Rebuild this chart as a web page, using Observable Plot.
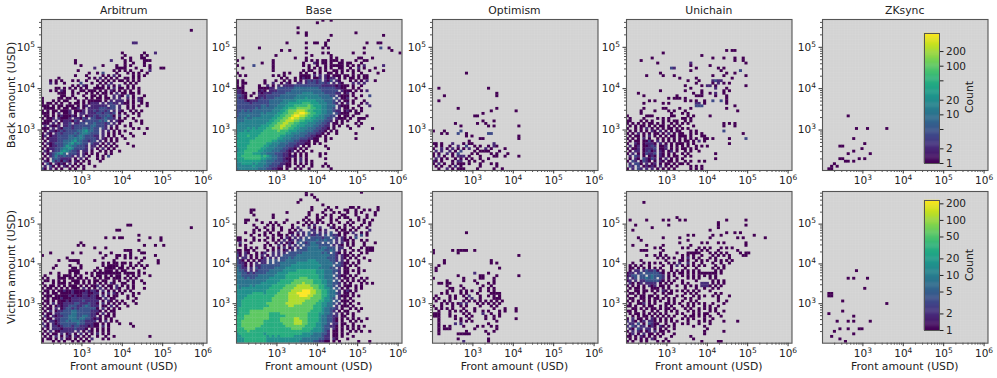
<!DOCTYPE html>
<html><head><meta charset="utf-8">
<script src="https://cdn.jsdelivr.net/npm/d3@7"></script>
<script src="https://cdn.jsdelivr.net/npm/@observablehq/plot@0.6"></script>
<style>
html,body{margin:0;padding:0;background:#fff}
#fig{position:relative;width:997px;height:378px;overflow:hidden;font-family:"DejaVu Sans",sans-serif}
#fig svg{position:absolute;background:transparent;overflow:visible}
</style></head><body><div id="fig"></div>
<script>
// Each string is one row of 60 log-spaced bins (top row first). '.' = empty; digit/letter = count level.
const levelCounts = {1:1,2:2,3:4,4:8,5:15,6:30,7:60,8:120,9:250,a:450};
const chains = ["Arbitrum","Base","Optimism","Unichain","ZKsync"];
const xTicks = [1e3,1e4,1e5,1e6];
const yTicks = [1e3,1e4,1e5];
const xDomain = [100,1.25e6];
const backDomain = [105,4.7e5];
const victimDomain = [102,6.6e5];
const barTicksBack = [1,2,5,10,20,50,100,200];
const barTicksVictim = [1,2,5,10,20,50,100,200];
const maxBack = 470, maxVictim = 230;

const arbitrumBack = [
'','','','',
'.......... .......... .......... .......... .......... ....1',
'','','','',
'.......... .......... .......... ...22',
'','','',
'.......... .......... .........1 .......1.. .2',
'.......... .......... .......... 1.....1.1',
'.......... .......... .........1 ..1...11',
'.......... ..1....... .....2.... 1.1....111',
'.......... ..1....... .......... 1..1...1',
'.......... ....1..... ..1....1.. 1.1....1.1',
'.......... .........2 .......111 1...1....1 ...11',
'.......... ...1...... ......1.1. 1.1...1..2',
'.......... .......1.. 1.3....1.. .1.1.1..1.',
'.......... ..1...1... ..1.1.2.1. ...1.1.1..',
'......1... .......1.1 .2.1.1.1.. 11.1.1..',
'...1.1.1.. .1.1..1... 1.1.1.1.11 .1.1.1.',
'...2.1..1. ....3...1. .1.1.2.... 1.1.1',
'.......... .1.1.21... 1.1.2.1.2. .1.1',
'.....11.1. 1.1.1.1..1 111.1.2.11 .1.1.1....',
'...1.1.21. .1..11.111 .1.1.21.1. 1.1..1',
'......111. .1.1..1.1. 1.11.1.2.1 1.11.1....',
'.......11. .1...1..11 .1.1..2.21 .3.1...1',
'1.....11.1 1.1...1.1. 11.11.2.2. .2.1.21...',
'1...1.1.11 ...1.1.111 11.1.2.222 .1.1.21...',
'1.11.1.1.. 1.11.1.122 2.2.2322.2 11.1..1.1.',
'111.1.11.1 11.1.12.22 2222.33.2. .1.1.1..1.',
'.1111.1.11 .112.1.222 2333233.2. .1.1...',
'1.1.11.111 2.1112.223 23323.2.21 ..1.1.1.',
'111.1.2.11 2.1.22.222 3323323.1. 1..1.1...',
'.11.1.1211 121.2.1223 2333431.2. .1...1..',
'1.112.2111 2.22132.33 2234332.1. 1..1..',
'.111.2.122 2132.23333 3434.2.211 ....1.1...',
'111.2.1.22 3.2233.334 33323.2.1. ..1...1.',
'.2.2112.22 3233333344 3332.2.1.. 1.1.....',
'111.2.2133 3233344343 3.32.1.1.. ...1.1..1.',
'.1.2212323 3334456443 3.2.2.1.1. 1.',
'1.21.23233 3343455433 3.2.1.1.1. ..1....1',
'12.1223333 4434543332 2.2.1.1..1 ...1..',
'1.12223333 4454543333 2.21.1.1.. 1...',
'.1.2223344 4564433233 .2.1.1.1..',
'1.21233344 5645433.32 2.1.2.1... .1',
'.1.1223346 5443332.22 .1.1.1.1.. ...1',
'1.12233455 6533332.2. 1.2.1.1...',
'.21.233565 4332.22.1. .1.1.1..1.',
'1.1234564. 3332.21.1. 1..1.1.',
'.1.2353343 32.2.2.1.. 1.1.3...',
'1.1.343222 2.1.2.1... 1.1.',
'.21.423132 1.21.1.1.. .1.',
'1.31.2121. 2.1.1..1..',
'.2.31.1.21 .1.1.1...1',
'31.2.1.1.. 1.1..1.'
];
const baseBack = [
'.......... .......... .......... .1..1',
'.......... .......... .........1',
'',
'.......... .......... ..1',
'',
'.......... .......... ..1..1.... .......... ...1',
'.......... .......... .....1.... ....1..... .......... ...1',
'',
'.......... .......... .......... ...1',
'.......... ........1. .....1..11 ..1....... .......1.. .11',
'.......... .......... .......... ..1',
'........1. .......... .....1.... .1.1...... ......1... ..3..1',
'.......... ......1..1 .......... .......... .......... ......1',
'.......... .......... .....1.... .1.1...... ..1...1... .........1',
'.......... ....1..... .......1.. ....1.....',
'..1....... .......... .1...1.... ....1.1... ....11...1',
'1......... ...1...... .....1.1.1 .11.111.1. ...1..11..',
'.........1 ...1...... ....1...21 .11.1..11. 11...1....',
'1.....3... ...1...... ....1.1..1 ..1.11111. 1.1.1.2... ...2',
'..1....... ...1...... ......1.1. 1.1.1..11. .1..2.1... 1.',
'.......... ...1...... ....1.11.. 1.1..11.1. 1.1.1...1. ...1',
'1......... .......1.1 ...1.1..1. 1..11.1.1. ..1..1.... .1',
'.1.1...... ...1.1.1.. ...1111.2. 2.21.111.1 1.1.1.11..',
'.......... ......1.1. .1.1211.11 2.2122.1.1 .11.1.11..',
'1.1....... 1...1..1.1 .1.1.23232 3.213.21.. .1.1.1.2.. 1',
'1.11...... 1..2..1.21 ..22.23332 3323.2.21. ..2.2.2...',
'1.1.....1. .2.1.2.222 2333333333 3222221211 1.1..1....',
'111.....11 1122.33333 3444444444 3333332211 ..1.1.....',
'221.....12 1.22233333 4444444444 4333333.21 11.1.1.2..',
'2211..1.21 2223333344 4444555544 44333322.1 2.1.......',
'3321.1..22 2333334444 4455555555 444433.211 1.1..1..3.',
'3221...123 2333444444 4555565555 54444.3.11 2..1......',
'3332122233 3344444555 5566666665 554443.2.1 1.1...1...',
'3333323333 3344445556 6666777666 5554432.1. 2.1..1.2..',
'3333333334 4344455566 6777778766 655444.211 1...1...2.',
'3333333434 4444555667 7788888776 655443.2.1 1.1..1....',
'3343434444 4445556678 8899987766 65544322.1 21.1.1....',
'3444444445 4555566778 899aa98776 65544.3211 1..11.....',
'3444544445 5555667788 9aa9987766 554433.1.1 1.1....1..',
'4445445555 5556677889 a998877665 55433.2111 .1..111...',
'4445555555 5566778899 9887766655 44332.1.1. 1...1.....',
'4555555555 5667788998 8776665554 4332.11.1. ...1.1....',
'5555555556 6677889988 7766655544 3322.1.1.. 1...1.....',
'5555656566 6778889887 7665554443 3221.1.... .1.......1',
'5556566666 7777787776 6655544433 221.1.1...',
'5666666667 7777777766 5554443332 21.1..1... ...1',
'6666766677 7777776655 5444433221 1.1.......',
'5666666777 7777766555 4443332211 ..1.1..... ...1',
'6666677777 7776655544 4332221.11 ..1.......',
'6666677777 7665554443 3322211.1. 1...',
'6666777777 6655544433 322.1.1... ..1.......',
'5666777776 6555444332 21.1.1.... ...1......',
'5667777766 5554443321 2.1.1..1..',
'6667776665 5444333221 .1.1.1.... 1.1.......',
'6677777776 7654433221 21.1.1.... 1.........',
'6667777776 6554433211 .1.2.1.... ..1.......',
'5666666665 5444333221 .1.2.1.1..',
'5566665655 5443332211 .1.1.1.1.. ..1.......',
'5555556555 4433322.11 ..1.1..1.. .1.1......',
'4555555544 4332211.1. .1.1..1... ....1.....'
];
const optimismBack = [
'','','','','','','','','','','','','','','','','','','','','',
'.......... ..1',
'','','','','',
'..1....... .......... 1',
'',
'.......... .......... ...1',
'....1..... .......... ...1',
'',
'..1',
'',
'',
'.........1 .......... ...1',
'.......... .......... .1........ 1',
'.......... ........1.',
'.......... .....11...',
'',
'.......... ........1. ..1',
'........1. ......1..1',
'.......... 1......... 1.1....... .1',
'',
'1...1..... 3.........',
'...1.1...3 ..1....... 33',
'.......... ..1.1..... .......... .1',
'.......... .......11. .......... .1',
'.......... ...1',
'11.1...2.. .1.11..... ..2',
'.1.1..1..2 ..3..1.1.. 1.21',
'1..2.1.2.1 .1.2..1..2 .1....1',
'.2.2..2.1. 3....1.111 1...1',
'1.1..2.1.3 ....1.1... .1.1...1..',
'1.2.1..1.2 22.1...1.. ..11..1... .1',
'.2.1.1..1. 1.1.1..1.. 1...',
'21.1...1.2 2..1.1..1.',
'1.2.1..1.1 11.1...1.. .1.1..',
'.1.1..1.2. 1......1.. ...1',
'..1..2.1.1 11....1... ..1..1'
];
const unichainBack = [
'','','','','','','','','','','','',
'.......... .......... .......... ......1.11',
'.......... ...1......',
'.......... .......... .......1..',
'.........1 .......... .......... .1...1...1 ..1',
'.....1.... .......... .......... .........1 ..1',
'.......... .1........ ...2...... .......... ...1',
'.......... .......... ...1...... 1.........',
'.......... ......32.. .....1.... ...1.1....',
'.......... .......... ...1...... ....1..... .3',
'.......... ..1....... .......... ......1..1',
'.......1.. ...1...1.. .......... .1...1.... ...1',
'.......... .........1 .....1.... ........1.',
'.......... .......... ..1...1... .2322.....',
'.......... .......... .....1.... .1.2.1.1..',
'.......... .......... .1.....1.2 2.1....... ...1',
'.......... .......... ...1..... ...2...1...',
'.......... ..1....... .1.....1.. .....1.1..',
'....1..... .......... ....1..1.. 1.2..1....',
'......1... ........1. .....111.. ..1...1...',
'.......... .....1.111 .1........ ......1...',
'........1. 1......... .1.1.1..1. .3..3.1.',
'......1... ...1.1.... .....22.1. ......1...',
'.......... .......... .....333.. .........1',
'......1... ...11....1 ...1...... ......1...',
'.....1.... 1....1.1.. .1........ ..........1',
'.....1.... ......1... 1.1.......',
'1......111 ......11.. ..1.1..... 1...',
'.1....1... .1.1.1.... 11.1......',
'11...1.1.1 ...1.1.11. .1.1......',
'1.1.1.1.11 .1.1..1.1. 1.1....... .....1.1.1',
'.1.1.11.1. 1.11.1.1.1 ....1..... .....1...1',
'1..1.1.2.1 .1.1.11.1. 1.1.......',
'.1.1.1.1.2 1.2.1.1.11 ...1.1.... .....3....',
'1.1.2.1.1. 11.1.2.1.1 1..1.1.1.. .......... ..1',
'.1.11.1.2. 1.1.1.11.1 11.1...11.',
'1.1.1.2.1. .1.1.1.1.1 .1.1.1..11 .1.....1.. ...3',
'.1.11.1131 .2.1.1.1.1 .11.1.2.1.',
'1..21.1222 1.2.1.1.11 1.1.1..... .......1..',
'.2.12.1123 2.112.1.1. 1.1..1.1.1',
'1.112.1222 3.112.1.1. 11.1.1....',
'.1.22.1231 2.21.12.1. .1.1..1...',
'1.2.1.1322 3.21.1.1.. 1.1....... ..1',
'.2.32.1.12 1.21.1.11. .1.1......',
'.1.21.3213 2.1.2.1.1. 1......... ..1',
'1.32.1321. 1.21.11.1. .1.1..1.1.',
'.2.331.2.1 2.1.11.1.1 1.1......',
'.32.3.1212 1.2.1.1.1. ...1.1.1..',
'1.2.32.2.2 .1.1.1.1.. ...1.1.1'
];
const zksyncBack = [
'','','','','','','','','','','','','','','','','','','','','','','','','','','','','','','','','','','','','','',
'.........1',
'','','','',
'.......... ..1...1... ...1',
'','','',
'.......... .1',
'',
'.......... .....1',
'......11',
'.......... ....1',
'.......... .1',
'.........1 .......1',
'',
'......11.. ...1.1',
'........11 .1',
'....1',
'...1.1',
'..11'
];

const arbitrumVictim = [
'','','','','','','','','','','','','',
'.......... .......... .......... .11',
'.......... .......... .......... .......... .......... ....1',
'.......... .......... .......11.',
'',
'.......... .......... .......... .....1',
'.......... .......... ...1..1.11 ......... 1...1.....',
'.......... .......... .......... .....1.... ...1',
'.......... ....1.....',
'.......... ...1.1.... .......... .......1.. .1..1',
'.......... .........1 ...1......',
'.......... .......... .......... 111..1....',
'...1...... .1..1..... .1...1.... ..1...11..',
'1......... .......... ...1...11. 1.1.......  .1',
'.........1 .......... ..1....1.. 1.1.1..1..',
'......1... 1111.....1 ......1... ......1... ..1',
'.......... ...1...... ..1.1.11.1 1.1..1.... ..1',
'.....1.... 1...1..... ..1.1111.1 ..1.1.1.1.',
'....1..... .11.1..... 1..1111.11 .1.1...1..',
'.......... 1111.....1 .1.111.1.1 1....1....',
'...1..1... 1.11..1.1. 111111111. 1111.1.1..',
'.1....1.11 1.1.1...1. 11.1.1.11. .1.1.1...1',
'1.1...111. 11.11.1..1 .1.11.111. 1.1.1.....',
'.11.1.1.1. .111.1.1.1 1.11..1.1. .1.1..1...',
'1...1.111. 1.11.1.1.1 .1.1.21..1 1..1...1..',
'.1.11.1.1. 111.1.1.11 2.1.11.2.1 .1.1......',
'1.11.1.1.1 .111.2.1.1 .2.1.1.21. .1.1...1..',
'.11.1.1121 1211112122 1.2.1.1.1. 1.1.......',
'1.1.11.111 1211122112 2.1.2.21.1 ...1.1....',
'.111.11111 2121122122 1.2.1.11.. .1.1......',
'1.1.111211 1222222222 11.2.11... .1..1.....',
'.11.1.1112 1222232222 2.1.21.1.1 ...1......',
'1.1.2.1122 2233222322 1.2.1.1.1. 1...1.....',
'.1.1.12122 3332234322 2.11.2.1.. .1........',
'1.11.2.123 3232333333 1.2.1.1.1.',
'.1.2.12233 3443333322 21.1.11...',
'1.11.22333 3443333322 1.2.1.1...',
'.21.212233 4443344322 .1.11.1...',
'1.11.22333 4443443321 21.1.1....',
'.1.2212334 3444332222 .1.2.1.1..',
'2.1.212333 3334332221 1.1.1...1. ..1',
'.21.221233 3233222121 1.2.1..... ...1',
'1.1.222122 2232221.1. 1.1.1.....',
'.1.2.11222 22.2.1.21. 1.1.1.',
'1.1.11.2.1 2.1.2.1.1. 2.1.1..',
'.1.1.2.1.2 1.21.1.1.. 1..1..1... .........1',
'1.11.1.2.1 1.1.1.1.2. ..1.1',
'1...1.1.1. .1.1.1.1..'
];
const baseVictim = [
'.......... .......... .....1.... .......... .....1',
'.......... .......... .....1.1.. ..',
'.......... .......... ........1.',
'.......... .......... ...1.....1',
'.......... .......... ..1.......',
'.......... .......... .......... .1....',
'.......... .......... .......1.. ...1..1... .11.1..... .1',
'.....11... .......... .......1.. ..1.1....1 1..1..1.1. .1',
'.....1.... ........1. ......1... .1...1.1.. 1..1.1.... 1.',
'......1... ...1...... ......1..1 ..1.1...11 ...1...1.. 1',
'.......... ...1...... .....1...1 .1..1..1.1 1...1..1..',
'...11..1.. ........1. ....1.1..1 1...1.1... .1..1.1..1',
'...1.....1 ..1.1..1.. ..1..1.1.1 .1..1..1.. 1.1...1.1.',
'......1... .1.1.1.... 1...1.1.2. ...1.1...1 .1...1..1.',
'.......1.. 1..1..1... 1.2...2.1. 2...21.1.1 ..1.1..1..',
'......1.1. .1.1..1..1 .1.2...22. 1.2...1.11 .1.1....2.',
'...1..1... 1.1..1...1 1.2.2.3.2. 2.2.3..1.1 1.2..1.1..',
'.....1..1. 1..1.11.1. 2.1.2.3223 2.3.3221.1 ...2.3.1..',
'11....1... .1.1..1.21 .2.2.3.333 3233.32.21 .1.3......',
'11.1..1.1. 1..1.1.2.1 2.23.33334 33433.2.21 1.1..1.1.',
'.2...1.... .1..1.2.12 1.3.323443 3.3.3.2.2. 1.1...1...1',
'.1.1...... 1.1..2.1.2 .2.3.33444 3333.2.21. 1.1...1...',
'...1.1.1.. 1..1.1.2.1 2.2.334444 344333.22. .1...1.111',
'11.11.1... .1.1.2.12. 2.33334444 443343.2.1 ..1.1..111',
'21.21..1.1 2..2.2.2.3 3333444444 4343.321.1 .1...1.1..',
'31.2.1.1.2 .1.2.2.333 3344444444 4444332.21 1.1.1.....',
'2.22.1.1.1 2.2.2.3334 3444444444 4443332.21 .1.1..1...',
'321.1.1.12 2.3.3.3344 4444445554 4444332.2. 1...1...1.',
'3221.1.2.2 2.3.334444 4455555555 444443.321 1.1.1.....',
'3321.1.223 3333334444 5555555555 54444.3321 .1.1......',
'4322.2.323 3333444455 5555555555 444433.2.1 1...1.....',
'4332.2.233 3344444555 5566666665 55444332.1 1.1.1.1...',
'4433232333 3444455556 6666666665 554443.2.1 1...1.....',
'4433333344 4444555566 6666666666 55444.3211 .1.1......',
'4443433444 4455555566 6667776666 554443.2.1 1.1..1.1..',
'4444444444 4555556666 6777777766 65544.3.1. 1.1.1.1...',
'4444444445 5555566666 7777877766 65544332.1 .1...1.1.1',
'5444454555 5556666677 7788888777 665443.2.1 11.1.1....',
'5455555555 5566666777 7888888877 66554.3.1. 1..1.1....',
'5555555555 5666667777 8888999887 766544.2.1 21.1......',
'5555556666 5666677778 8899999887 76654432.1 1.1.......',
'5555666666 6666777778 8889998877 766544.211 1.1.1.....',
'5556666666 6667777778 8888888777 765543.2.1 .1........',
'5566666666 6667777778 8888877777 66554.3.11 1.1.......',
'5566666666 6777777788 8888777776 655443.2.1 .1..1.....',
'5566666666 6677777778 8777777766 65544.2.11 1.1.......',
'5666666666 7777777777 7777777766 6544332.1. .1.1.1....',
'5666677777 7777777777 7777777666 654432.1.1 1...1.....',
'5666677777 7766667777 7777776666 55443.2.1. 1.1.......',
'6667777777 7766666677 7777776666 5443322.11 ..1.......',
'6667777777 7766667777 7887776666 5443321.1. 1.1.1..1..',
'6677777777 6666667777 7888776666 5443321.1. .1.1.1....',
'6677777777 6666666777 7888776665 5443.22.11 ..1.......',
'6677777776 6666666677 7777766665 5433221.1. 1.1.1.1...',
'6667777666 6666666666 7777666655 5433.21.1. 1.1.1.....',
'6666766666 6666666666 6666666555 5432.11.1. .1.1.1..1.',
'5666666666 5666666666 6666555544 4332.11.1. 1.........',
'5566666666 6565656666 6555555444 4322.11.1. ..1...',
'5556666666 6555555555 5555444444 3322.21... 1.........',
'5556666666 6555555555 5554444433 2211.1.1.. ....1...1.'
];
const optimismVictim = [
'','','','','','','','','','','','','','','','',
'.......... ..1',
'','','','','','',
'1......1.1 111..1',
'1........1',
'.......... .......... .......... .1',
'',
'....1..... .......... .1',
'....1..... .......... .1.1',
'..1',
'.1........ .......... ....1',
'.1',
'.......... .....2.... 1...',
'.........1 .......11. ...1...... .1',
'1......... .1.....11. ..1',
'.....1.... .1...1.... ..1',
'..11.11... ......1... 1.1.',
'.....1.... 1.......1. .1',
'......11.. .1.....1.. 1.1.',
'.....1.1.. 1.1.1..1.. 1.1',
'...1.1.... 1.1...1... .1111',
'.1....1.1. .1.2...1.. 1.1.1',
'1.1...1.1. ..1.2..1.. ..111',
'.1..1.1... .1.1.1.1.1 .1.1.1',
'...1.1.1.1 2.2...1.1. 1.1.1',
'1..1...1.. 1.1....1.. .1.1..',
'.1.1.1.1.. .1...1.... ..1...1... 1',
'..1...1.1. 1.1..1..1. 1...1.1.. .1',
'111...1... .1.1....2. .1..1....',
'111...1.1. ..1.1.... 1..1.1.',
'..1.....1. 1..1.....1 ..1....... 1',
'..1....... 1.1.1..... ...1',
'..1.....2. 2......... 1',
'..1.1.1... .1....1.1. .1.1',
'..1.111... .....1.... ...1',
'..1....... ..1......1 ..1',
'..1......1 1111...... 1',
'',
'.........1 .......... 1',
'.......... .2........ 1',
'1....1...1 ....1..... ...1'
];
const unichainVictim = [
'','','','',
'......1',
'','','','','','.......... ........1',
'.1.....1.. ...1.1...1 .1.......... ....1.... ..1',
'.......... .......... .......... ...1',
'...1...... .....1.... .......... ...1..... ....1',
'.........1 .......... .......... ...1',
'..1....... .......... .......... 1',
'.......... .......... .......... ......1..1 .1',
'.......... .......... ..1.1...  ...1..1.... .......1',
'....1..... ...1.....1 .......... 1......... 1.1.......1',
'.....1.... .......... ..1....... ........',
'.......... .........1 .......1.1 ...1.1.... ...1',
'..1....1.. ...1...... ...1...... .......... ...1',
'.......... 1.1....... 1.1...1.1. 1...1.1.1.',
'.....111.. ...1...... .....1.1.1 ...1...... 1',
'.......... ..1.....1. ..11111... 1.1.1.1... .1.11',
'.......1.. 1.1.1..... 1.1.1..1.. .1.1.1.1.. ..11',
'.......... .1.1.1.1.. 1.2.1.1... 1.1....1..',
'.....1.... ....1....1 1.1..1.1.1 ..1.1.1.1.',
'..1...1.1. 1.1..1.1.2 ..2.1..1.. .1..1..1..',
'.1.1.1..1. ...1..1.2. 1.1.1.1.1. ..1..1....',
'.11.1.1.1. 1.1...1... .1...1.... .1.1.1....',
'.1.22.2322 31.1..1.1. 1.1.1.1... ..1.1.....',
'122.23.333 3321.1.1.1 1.1.1.1111 111.1.....',
'1233.33.34 3332.1.1.. 1.1.1.1.1. 1.1.......',
'2.23.33434 3.32.1..1. ..1.1.1... 1.1.......',
'12.2.22333 3321.1.1.. 1....1.... .1.1.1...',
'.21.12.222 2.1.1.1... 1.1....222 .1.1.1....',
'1.1.1.1.21 2.11.1..1. .1.1.1.222 1.1.1.....',
'.1.11.1..1 11.1.1.... .1...1..1. .1.1..',
'1..11.11.1 .1.21.1.1. 1.1.1.1... 1.......',
'.11.1.1... 1..1.11... .1.1.1.... ..1.1...',
'1..1.11.11 .1..1...1. 1...1.1.1. .1.1...1',
'.11..11.1. 11.1.1.1.. .1.1..1... ...1.....',
'1.1.1.1.1. 1.1..1.1.. 1..1.1.... ...1..1..',
'.1..112.1. 1...11.1.1 ..1.1.1.1. .1...1..',
'11.1..1.11 ..1.1.1... 1.1.1...1. 1..1.....',
'..11.1.1.1 1.1.11.1.. .1.1..1.1. 1.1.....',
'11.1..1..1 .1..1.1.1. ..1.1.1... 1.1..1',
'.1.11.1.1. 1.1.1...1. 1...1.1.11 ...1.',
'..1.1.11.1 .1.1.1.1.. .1.11.1.1. 1...1.....',
'1.2.11.1.2 1.1.1.1... 1.1.1...1. .1...',
'2.21.12.22 1.1.1.1.1. ..1...1.1. 1....1....1',
'.22.3.1.32 11..1..1.. 1.1...1.. .1.',
'2.32.22.12 1.21.1.1.. ....1...1.',
'.21.32.22. 1.1.1..1.. .........1',
'1.2.21.12. 2.11.1.... ........1. .....1',
'.12.1.2.11 .1.1...1.. ........1',
'11.1.21.1. 1.1...1... ...1...',
'.1.1.1.1.2 1...1..... ....1.....',
'1.1..1.1.. .1.1.1.... .......1. ....11'
];
const zksyncVictim = [
'','','','','','','','','','','','','','','','','','','','','','','','','','','','','','','',
'.......... ..1',
'','',
'.........1 .1....1',
'','','',
'.......... .....1',
'',
'..11',
'..11',
'',
'.......1',
'.......... .......... ...1',
'','',
'.......1',
'..1',
'.......... .1',
'',
'.....1...1 .1.....1',
'','',
'......1..1 ...11',
'....1',
'.......... .1',
'...1',
'......1',
'........1',
''
];

const backRows = [arbitrumBack,baseBack,optimismBack,unichainBack,zksyncBack];
const victimRows = [arbitrumVictim,baseVictim,optimismVictim,unichainVictim,zksyncVictim];

const panelLefts = [41,236,431.7,626,822];
const panelWidth = 165.5;
const rowTops = [19,191];
const panelHeights = [151,151.7];
const M = {l:41,r:12,t:19,b:36};
const fig = document.getElementById("fig");

const fmt = d => "10" + Math.round(Math.log10(d));
const minor = ([a,b]) => { const o=[]; for(let e=2;e<7;e++) for(let m=2;m<10;m++){const v=m*10**e; if(v>=a&&v<=b) o.push(v);} return o; };

function cells(rows, yDom){
  const out=[]; const lx0=Math.log10(xDomain[0]), lx1=Math.log10(xDomain[1]);
  const ly0=Math.log10(yDom[0]), ly1=Math.log10(yDom[1]);
  const dx=(lx1-lx0)/60, dy=(ly1-ly0)/60;
  rows.forEach((s,r)=>{
    if(r>=60) return;
    [...s.replace(/ /g,"")].forEach((ch,c)=>{
      if(ch==="."||c>=60) return;
      out.push({x1:10**(lx0+c*dx),x2:10**(lx0+(c+1)*dx),y1:10**(ly1-(r+1)*dy),y2:10**(ly1-r*dy),n:levelCounts[ch]});
    });
  });
  return out;
}
function edges(dom){ const a=Math.log10(dom[0]),b=Math.log10(dom[1]); return d3.range(1,60).map(i=>10**(a+i*(b-a)/60)); }
function superscript(svg){
  svg.querySelectorAll('g[aria-label$="tick label"] text').forEach(t=>{
    const s=t.textContent;
    if(!s||s.length<3||!s.startsWith("10")) return;
    t.textContent="10";
    const sp=document.createElementNS("http://www.w3.org/2000/svg","tspan");
    sp.textContent=s.slice(2); sp.setAttribute("dy","-4"); sp.setAttribute("font-size","7.5");
    t.appendChild(sp);
  });
}

function panel(i,rowIdx){
  const yDom = rowIdx===0?backDomain:victimDomain;
  const max = rowIdx===0?maxBack:maxVictim;
  const rows = (rowIdx===0?backRows:victimRows)[i];
  const H = panelHeights[rowIdx];
  const p = Plot.plot({
    width:M.l+panelWidth+M.r, height:M.t+H+M.b,
    marginLeft:M.l, marginRight:M.r, marginTop:M.t, marginBottom:M.b,
    style:{fontFamily:"DejaVu Sans",fontSize:"10px",background:"transparent",color:"#222"},
    x:{type:"log",domain:xDomain,axis:null},
    y:{type:"log",domain:yDom,axis:null},
    color:{type:"log",domain:[1,max],scheme:"viridis"},
    marks:[
      Plot.frame({fill:"#d3d3d3",stroke:null}),
      Plot.ruleX(edges(xDomain),{stroke:"#fff",strokeOpacity:0.06,strokeWidth:1}),
      Plot.ruleY(edges(yDom),{stroke:"#fff",strokeOpacity:0.06,strokeWidth:1}),
      Plot.rect(cells(rows,yDom),{x1:"x1",x2:"x2",y1:"y1",y2:"y2",fill:"n",inset:-0.15,clip:true}),
      Plot.frame({stroke:"#555",strokeWidth:1.1}),
      Plot.axisX({ticks:xTicks,tickFormat:fmt,tickSize:3.5,tickPadding:3,label:null,stroke:"#333",color:"#222",fontSize:10.5}),
      Plot.axisX({ticks:minor(xDomain),tickFormat:()=>"",tickSize:2,label:null,stroke:"#555"}),
      Plot.axisY({ticks:yTicks,tickFormat:fmt,tickSize:3.5,tickPadding:3,label:null,stroke:"#333",color:"#222",fontSize:10.5}),
      Plot.axisY({ticks:minor(yDom),tickFormat:()=>"",tickSize:2,label:null,stroke:"#555"})
    ]
  });
  superscript(p);
  p.style.left=(panelLefts[i]-M.l)+"px"; p.style.top=(rowTops[rowIdx]-M.t)+"px";
  fig.appendChild(p);
}
for(let i=0;i<5;i++){ panel(i,0); panel(i,1); }

function label(txt,x,y,size,rot){
  const d=document.createElement("div");
  d.textContent=txt;
  d.style.cssText=`position:absolute;left:${x}px;top:${y}px;font-size:${size}px;color:#222;white-space:nowrap;transform:translate(-50%,-50%)${rot?" rotate(-90deg)":""}`;
  fig.appendChild(d);
}
chains.forEach((c,i)=>label(c,panelLefts[i]+panelWidth/2,10,10.8));
chains.forEach((c,i)=>label("Front amount (USD)",panelLefts[i]+panelWidth/2,366,10.8));
label("Back amount (USD)",11,95,10.8,true);
label("Victim amount (USD)",11,267,10.8,true);

function colorbar(top,bottom,max,ticks,labelY){
  const h=bottom-top;
  const p=Plot.plot({
    width:75,height:h+20,marginLeft:0,marginRight:60,marginTop:10,marginBottom:10,
    style:{fontFamily:"DejaVu Sans",background:"transparent",color:"#222"},
    x:{domain:[0,1],axis:null},
    y:{type:"log",domain:[1,max],axis:null},
    color:{type:"log",domain:[1,max],scheme:"viridis"},
    marks:[
      Plot.rect(d3.range(0,120),{x1:0,x2:1,y1:i=>max**(i/120),y2:i=>max**((i+1)/120),fill:i=>max**((i+.5)/120),inset:-0.2}),
      Plot.frame({stroke:"#555",strokeWidth:1}),
      Plot.axisY({anchor:"right",ticks,tickFormat:d=>d,tickSize:3.5,tickPadding:3,label:null,color:"#222",fontSize:10.5})
    ]
  });
  p.style.left="924px"; p.style.top=(top-10)+"px";
  fig.appendChild(p);
  label("Count",969,labelY,10.8,true);
}
colorbar(33,163,maxBack,barTicksBack,97);
colorbar(200,330,maxVictim,barTicksVictim,265);
</script></body></html>
